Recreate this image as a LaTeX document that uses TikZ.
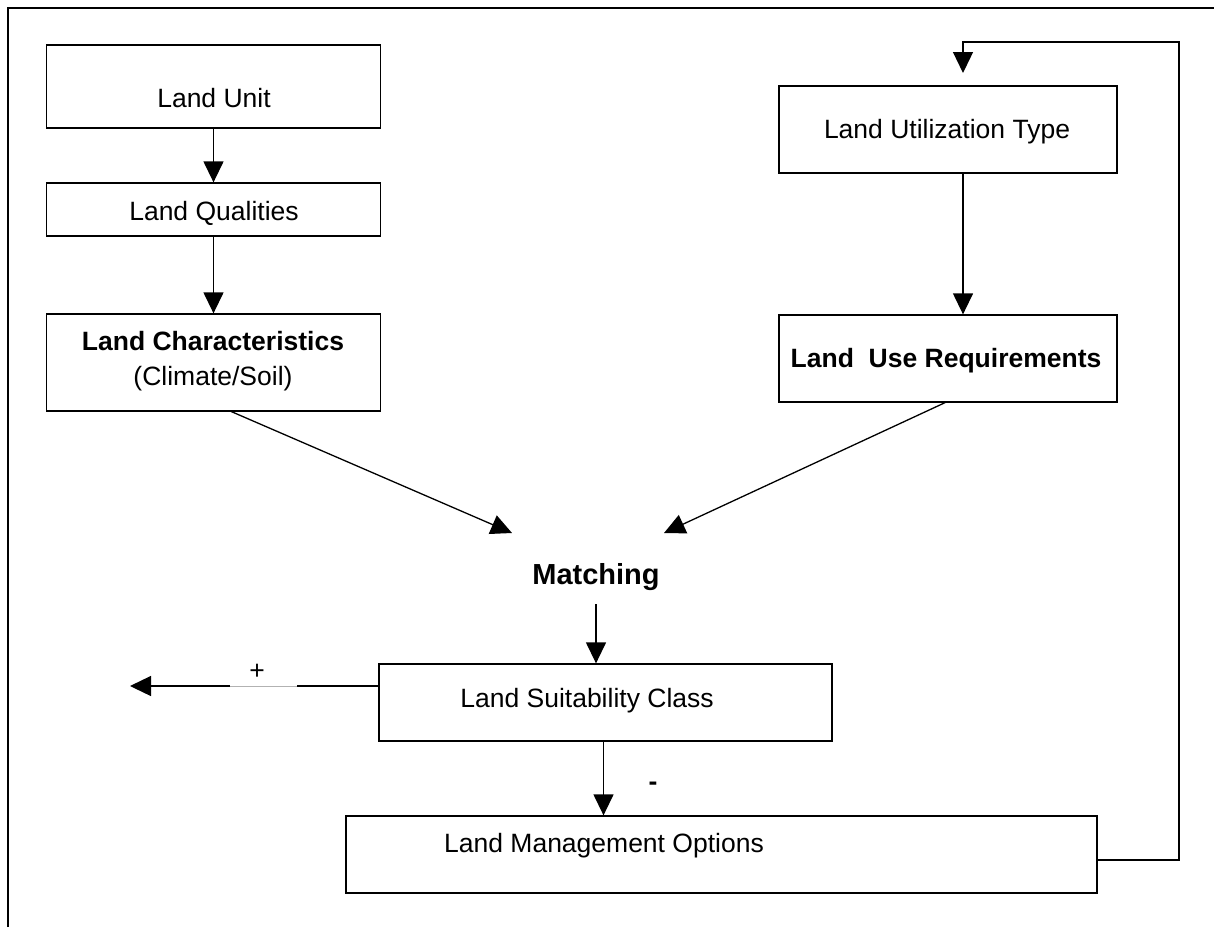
\documentclass[tikz,border=0pt]{standalone}
\usepackage{fontspec}
\setmainfont{Liberation Sans}
\usetikzlibrary{arrows.meta,calc}
\tikzset{
  box/.style={draw, line width=1.3pt, inner sep=0pt},
  lbl/.style={font=\fontsize{26.5}{31}\selectfont, inner sep=0pt, anchor=base},
  conn/.style={line width=1.3pt, -{Triangle[length=21pt,width=20pt]}},
  plain/.style={line width=1.3pt},
}
\begin{document}
\begin{tikzpicture}[x=1pt,y=-1pt]
\useasboundingbox (0,0) rectangle (1214,927);
% frame
\draw[line width=2pt] (8,927) -- (8,8) -- (1214,8);
% boxes
\node[box, minimum width=334pt, minimum height=83pt] (lu) at (213.5,86.5) {};
\node[box, minimum width=334pt, minimum height=53pt] (lq) at (213.5,209.5) {};
\node[box, minimum width=334pt, minimum height=97pt] (lc) at (213.5,362.5) {};
\node[box, minimum width=338pt, minimum height=87pt] (lut) at (948,129.5) {};
\node[box, minimum width=338pt, minimum height=87pt] (lur) at (948,358.5) {};
\node[box, minimum width=453pt, minimum height=77pt] (lsc) at (605.5,702.5) {};
\node[box, minimum width=751pt, minimum height=77pt] (lmo) at (721.5,854.5) {};
% texts
\node[lbl] (tlu) at (214,107) {Land Unit};
\node[lbl] (tlq) at (214,220) {Land Qualities};
\node[lbl, font=\fontsize{26.5}{31}\selectfont\bfseries] (tlc) at (213,350) {Land Characteristics};
\node[lbl] (tlc2) at (213,385) {(Climate/Soil)};
\node[lbl] (tlut) at (947,138) {Land Utilization Type};
\node[lbl, font=\fontsize{26.5}{31}\selectfont\bfseries] (tlur) at (946,367) {Land\ \ Use Requirements};
\node[lbl, font=\fontsize{29}{34}\selectfont\bfseries] (m) at (596,584) {Matching};
\node[lbl] (tlsc) at (587,707) {Land Suitability Class};
\node[lbl] (tlmo) at (604,852) {Land Management Options};
\node[lbl] (plus) at (257,679) {+};
\node[lbl, font=\fontsize{26.5}{31}\selectfont\bfseries] (minus) at (653,790) {-};
% connectors
\draw[conn] (lu.south) -- (lq.north);
\draw[conn] (lq.south) -- (lc.north);
\draw[conn] ($(lut.south)+(15,0)$) -- ($(lur.north)+(15,0)$);
\coordinate (mL) at ($(m.base)+(-84,-51)$);
\coordinate (mR) at ($(m.base)+(68,-51)$);
\draw[conn] ($(lc.south)+(18,0)$) -- (mL);
\draw[conn] ($(lur.south)+(-3,0)$) -- (mR);
\draw[conn] ($(m.base)+(0,20)$) -- (lsc.north -| m.base);
\draw[conn] ($(lsc.south)+(-2,0)$) -- ($(lmo.north)+(-118,0)$);
% left output arrow with gap
\coordinate (lt) at (130,686);
\draw[plain] (lsc.west |- lt) -- (297,686);
\draw[line width=1pt, black!30] (297,686) -- (230,686);
\draw[conn] (230,686) -- (lt);
% feedback loop
\coordinate (fb1) at (1179,860);
\coordinate (fb2) at (1179,42);
\draw[conn] (lmo.east |- fb1) -- (fb1) -- (fb2) -- (963,42) -- (963,73);
\end{tikzpicture}
\end{document}
